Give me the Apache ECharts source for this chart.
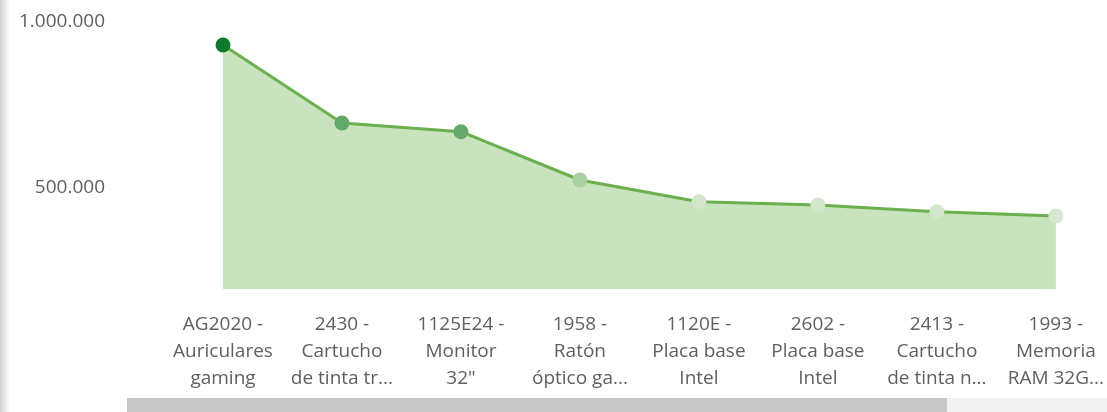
<!DOCTYPE html>
<html>
<head>
<meta charset="utf-8">
<script src="https://cdn.jsdelivr.net/npm/echarts@6/dist/echarts.min.js"></script>
<style>
html, body { margin: 0; padding: 0; background: #fff; }
#main { width: 1107px; height: 412px; }
</style>
</head>
<body>
<div id="main"></div>
<script>
// categorías (etiquetas tal como se ven, truncadas)
var categorias = [
	'AG2020 -\nAuriculares\ngaming',
	'2430 -\nCartucho\nde tinta tr...',
	'1125E24 -\nMonitor\n32"',
	'1958 -\nRatón\nóptico ga...',
	'1120E -\nPlaca base\nIntel',
	'2602 -\nPlaca base\nIntel',
	'2413 -\nCartucho\nde tinta n...',
	'1993 -\nMemoria\nRAM 32G...'
];
var valores = [930700, 695800, 669600, 524100, 458700, 448800, 428600, 415700];
var coloresPunto = ['#0e7a2c', '#62a868', '#66aa6a', '#a9d09f', '#d2e7ca', '#d2e7ca', '#d2e7ca', '#d6e9cf'];
var ticksY = [500000, 1000000];

var datos = valores.map(function (v, i) {
	return { value: v, itemStyle: { color: coloresPunto[i] } };
});

var fuente = '"Open Sans", "Noto Sans", sans-serif';

var chart = echarts.init(document.getElementById('main'));
chart.setOption({
	animation: false,
	grid: { left: 223, right: 49, top: 22, bottom: 123, containLabel: false },
	xAxis: {
		type: 'category',
		data: categorias,
		boundaryGap: false,
		axisLine: { show: false },
		axisTick: { show: false },
		splitLine: { show: false },
		axisLabel: {
			interval: 0,
			margin: 22,
			color: '#5f5f5f',
			fontFamily: fuente,
			fontSize: 19,
			lineHeight: 27
		}
	},
	yAxis: {
		type: 'value',
		min: 195800,
		max: 1000000,
		axisLine: { show: false },
		axisTick: { show: false },
		splitLine: { show: false },
		axisLabel: {
			customValues: ticksY,
			margin: 118,
			color: '#5f5f5f',
			fontFamily: fuente,
			fontSize: 19,
			formatter: function (v) {
				return String(v).replace(/\B(?=(\d{3})+(?!\d))/g, '.');
			}
		}
	},
	graphic: [
		{ type: 'rect', shape: { x: 0, y: 0, width: 10, height: 412 },
			style: { fill: new echarts.graphic.LinearGradient(0, 0, 1, 0, [{ offset: 0, color: '#d0d0d0' }, { offset: 1, color: '#ffffff' }]) }, silent: true },
		{ type: 'rect', shape: { x: 127, y: 398, width: 820, height: 14 }, style: { fill: '#c8c8c8' }, silent: true },
		{ type: 'rect', shape: { x: 947, y: 398, width: 160, height: 14 }, style: { fill: '#f1f1f1' }, silent: true }
	],
	series: [{
		type: 'line',
		data: datos,
		symbol: 'circle',
		symbolSize: 15,
		lineStyle: { color: '#6ab04c', width: 3 },
		areaStyle: { color: '#c8e3be', opacity: 1 },
		itemStyle: { borderWidth: 0 }
	}]
});
</script>
</body>
</html>
